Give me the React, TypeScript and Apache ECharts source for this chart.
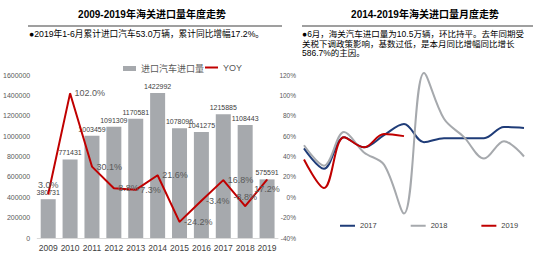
import React, { useEffect, useRef } from "react";
import * as echarts from "echarts";

// Annual imports (vehicles) and year-on-year change
const years = ["2009", "2010", "2011", "2012", "2013", "2014", "2015", "2016", "2017", "2018", "2019"];
const importVolume = [380731, 771431, 1003459, 1091309, 1170581, 1422992, 1078096, 1041275, 1215885, 1108443, 575591];
const yoy = [3.0, 102.0, 30.1, 8.8, 7.3, 21.6, -24.2, -3.4, 16.8, -8.8, 17.2];

// Monthly y/y trend by year
const months = ["1", "2", "3", "4", "5", "6", "7", "8", "9", "10", "11", "12"];
const monthly2017 = [48, 28, 59, 49, 61, 72, 54, 58, 58, 58, 69, 68];
const monthly2018 = [51, 31, 64, 44, 32, -16, 122, 77, 59, 38, 55, 40];
const monthly2019 = [37, 9, 59, 49, 62, 60];

const leftTitle = "2009-2019年海关进口量年度走势";
const leftNote = "●2019年1-6月累计进口汽车53.0万辆，累计同比增幅17.2%。";
const rightTitle = "2014-2019年海关进口量月度走势";
const rightNote = [
  "●6月，海关汽车进口量为10.5万辆，环比持平。去年同期受",
  "关税下调政策影响，基数过低，是本月同比增幅同比增长",
  "586.7%的主因。",
];

const FONT = "'Liberation Sans', Arial, 'Noto Sans CJK SC', sans-serif";

// label placement for the YOY line points
const yoyLabelPos: Array<[string, number[]]> = [
  ["top", [-6, -12]],
  ["right", [0, 0]],
  ["right", [2, 0]],
  ["right", [1, 0]],
  ["right", [0, 1]],
  ["right", [2, 0]],
  ["right", [0, 0]],
  ["right", [1, 2]],
  ["right", [1, 2]],
  ["top", [2, 2]],
  ["bottom", [-2, -4]],
];

export default function App() {
  const ref = useRef<HTMLDivElement>(null);

  useEffect(() => {
    if (!ref.current) return;
    const chart = echarts.init(ref.current, undefined, { renderer: "svg" });

    const smoothLine = (name: string, data: number[], color: string) => ({
      name,
      type: "line",
      xAxisIndex: 1,
      yAxisIndex: 2,
      smooth: 0.35,
      symbol: "none",
      clip: false,
      data,
      lineStyle: { color, width: 2 },
      itemStyle: { color },
    });

    const option: any = {
      animation: false,
      textStyle: { fontFamily: FONT },
      grid: [
        { left: 36, width: 242, top: 75, height: 163 },
        { left: 304, width: 220, top: 75, height: 163 },
      ],
      legend: [
        {
          data: ["进口汽车进口量"],
          left: 118,
          top: 59,
          itemWidth: 13,
          itemHeight: 5,
          icon: "rect",
          textStyle: { fontSize: 9, color: "#595959", fontFamily: FONT },
        },
        {
          data: ["YOY"],
          left: 200,
          top: 58,
          itemWidth: 13,
          itemHeight: 2,
          icon: "rect",
          textStyle: { fontSize: 9, color: "#595959", fontFamily: FONT },
        },
        {
          data: ["2017", "2018", "2019"],
          left: 335,
          top: 217,
          itemWidth: 15,
          itemHeight: 2,
          itemGap: 34,
          icon: "rect",
          textStyle: { fontSize: 7.5, color: "#404040", fontFamily: FONT },
        },
      ],
      xAxis: [
        {
          type: "category",
          gridIndex: 0,
          data: years,
          axisLine: { lineStyle: { color: "#d9d9d9" } },
          axisTick: { show: false },
          axisLabel: { fontSize: 8.5, color: "#404040", margin: 6, interval: 0 },
        },
        {
          type: "category",
          gridIndex: 1,
          data: months,
          boundaryGap: false,
          show: false,
        },
      ],
      yAxis: [
        {
          type: "value",
          gridIndex: 0,
          min: 0,
          max: 1600000,
          interval: 200000,
          splitLine: { show: false },
          axisLine: { show: false },
          axisTick: { show: false },
          axisLabel: {
            fontSize: 7,
            color: "#595959",
            margin: 7,
            formatter: (v: number) => String(v),
          },
        },
        {
          type: "value",
          gridIndex: 0,
          min: -40,
          max: 120,
          show: false,
          splitLine: { show: false },
        },
        {
          type: "value",
          gridIndex: 1,
          min: -40,
          max: 120,
          interval: 20,
          splitLine: { show: false },
          axisLine: { show: false },
          axisTick: { show: false },
          axisLabel: { fontSize: 6.5, color: "#595959", margin: 8, formatter: "{value}%" },
        },
      ],
      series: [
        {
          name: "进口汽车进口量",
          type: "bar",
          xAxisIndex: 0,
          yAxisIndex: 0,
          barWidth: 15,
          data: importVolume,
          itemStyle: { color: "#a6a9ad" },
          label: {
            show: true,
            position: "top",
            distance: 3,
            fontSize: 7,
            color: "#404040",
          },
        },
        {
          name: "YOY",
          type: "line",
          xAxisIndex: 0,
          yAxisIndex: 1,
          symbol: "circle",
          symbolSize: 1,
          showAllSymbol: true,
          lineStyle: { color: "#c00000", width: 2 },
          itemStyle: { color: "#c00000" },
          label: {
            show: true,
            fontSize: 9,
            color: "#595959",
            formatter: (p: any) => Number(p.value).toFixed(1) + "%",
          },
          labelLayout: { hideOverlap: false },
          data: yoy.map((v, i) => ({
            value: v,
            label: {
              position: yoyLabelPos[i][0],
              offset: yoyLabelPos[i][1],
              distance: 4,
            },
          })),
        },
        smoothLine("2017", monthly2017, "#1f3c78"),
        smoothLine("2018", monthly2018, "#a6a9ad"),
        smoothLine("2019", monthly2019, "#c00000"),
      ],
      graphic: [
        {
          type: "text",
          x: 152,
          y: 14,
          style: {
            text: leftTitle,
            fontSize: 10,
            fontWeight: "bold",
            fill: "#000",
            align: "center",
            verticalAlign: "middle",
            fontFamily: FONT,
          },
        },
        {
          type: "line",
          shape: { x1: 28, y1: 26, x2: 282, y2: 26 },
          style: { stroke: "#7f7f7f", lineWidth: 1.5 },
        },
        {
          type: "text",
          x: 29,
          y: 34,
          style: {
            text: leftNote,
            fontSize: 8.7,
            fill: "#000",
            verticalAlign: "middle",
            fontFamily: FONT,
          },
        },
        {
          type: "text",
          x: 425,
          y: 14,
          style: {
            text: rightTitle,
            fontSize: 10,
            fontWeight: "bold",
            fill: "#000",
            align: "center",
            verticalAlign: "middle",
            fontFamily: FONT,
          },
        },
        {
          type: "line",
          shape: { x1: 302, y1: 26, x2: 533, y2: 26 },
          style: { stroke: "#7f7f7f", lineWidth: 1.5 },
        },
        ...rightNote.map((t, i) => ({
          type: "text",
          x: 302,
          y: 34 + i * 9.7,
          style: {
            text: t,
            fontSize: 8.5,
            fill: "#000",
            verticalAlign: "middle",
            fontFamily: FONT,
          },
        })),
      ],
    };

    chart.setOption(option);
    return () => chart.dispose();
  }, []);

  return (
    <div
      ref={ref}
      style={{ position: "fixed", left: 0, top: 0, width: 550, height: 263, background: "#fff" }}
    />
  );
}
